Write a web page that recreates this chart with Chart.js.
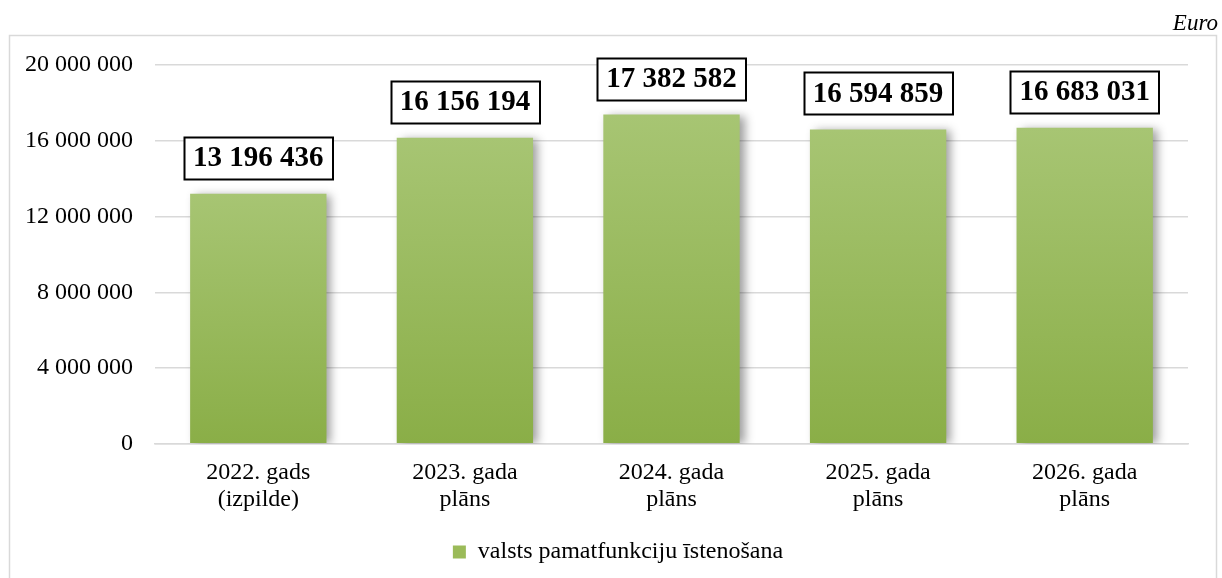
<!DOCTYPE html>
<html>
<head>
<meta charset="utf-8">
<script src="https://cdn.jsdelivr.net/npm/chart.js@4"></script>
<style>
html,body{margin:0;padding:0;background:#fff;}
canvas{display:block;}
</style>
</head>
<body>
<canvas id="c" width="1222" height="578"></canvas>
<script>
const categories = [["2022. gads","(izpilde)"],["2023. gada","plāns"],["2024. gada","plāns"],["2025. gada","plāns"],["2026. gada","plāns"]];
const seriesName = "valsts pamatfunkciju īstenošana";
const values = [13196436, 16156194, 17382582, 16594859, 16683031];
const yMin = 0, yMax = 20000000, yStep = 4000000;
const unitLabel = "Euro";

const SERIF = "'Liberation Serif', 'Times New Roman', serif";
function fmt(v){ return String(Math.round(v)).replace(/\B(?=(\d{3})+(?!\d))/g, " "); }

const framePlugin = {
  id: 'frame',
  afterLayout(chart){
    if (chart.legend) { chart.legend.left += 19; chart.legend.right += 19; }
  },
  beforeDraw(chart){
    const ctx = chart.ctx;
    ctx.save();
    ctx.fillStyle = '#fff';
    ctx.fillRect(0,0,chart.width,chart.height);
    ctx.strokeStyle = '#d9d9d9';
    ctx.lineWidth = 1.5;
    ctx.strokeRect(9.5, 35.5, 1207, 560);
    ctx.fillStyle = '#000';
    ctx.font = 'italic 23px ' + SERIF;
    ctx.textAlign = 'right';
    ctx.textBaseline = 'alphabetic';
    ctx.fillText(unitLabel, 1218, 30);
    ctx.restore();
  }
};

const shadowPlugin = {
  id: 'barShadow',
  beforeDatasetDraw(chart){
    const ctx = chart.ctx;
    ctx.save();
    ctx.shadowColor = 'rgba(0,0,0,0.38)';
    ctx.shadowBlur = 9;
    ctx.shadowOffsetX = 5;
    ctx.shadowOffsetY = 1;
  },
  afterDatasetDraw(chart){
    chart.ctx.restore();
  }
};

const labelPlugin = {
  id: 'boxLabels',
  afterDatasetsDraw(chart){
    const ctx = chart.ctx;
    const meta = chart.getDatasetMeta(0);
    ctx.save();
    ctx.font = 'bold 29px ' + SERIF;
    ctx.textAlign = 'center';
    ctx.textBaseline = 'middle';
    meta.data.forEach((el, i) => {
      const txt = fmt(chart.data.datasets[0].data[i]);
      const w = ctx.measureText(txt).width + 18;
      const h = 42;
      const bottom = el.y - 15;
      const x0 = Math.round(el.x - w/2) + 0.5;
      const y0 = Math.round(bottom - h) + 0.5;
      ctx.fillStyle = '#fff';
      ctx.fillRect(x0, y0, w, h);
      ctx.strokeStyle = '#000';
      ctx.lineWidth = 2;
      ctx.strokeRect(x0, y0, w, h);
      ctx.fillStyle = '#000';
      ctx.fillText(txt, el.x, bottom - h/2 + 1);
    });
    ctx.restore();
  }
};

function barGradient(context){
  const chart = context.chart;
  const ys = chart.scales && chart.scales.y;
  if (!chart.chartArea || !ys || context.parsed === undefined) return '#9bbb59';
  const v = context.parsed ? context.parsed.y : 0;
  const top = ys.getPixelForValue(v);
  const bottom = ys.getPixelForValue(0);
  if (!isFinite(top) || !isFinite(bottom) || top === bottom) return '#9bbb59';
  const g = chart.ctx.createLinearGradient(0, top, 0, bottom);
  g.addColorStop(0, '#a7c573');
  g.addColorStop(1, '#8aae47');
  return g;
}

new Chart(document.getElementById('c'), {
  type: 'bar',
  data: {
    labels: categories,
    datasets: [{
      label: seriesName,
      data: values,
      backgroundColor: barGradient,
      borderWidth: 0,
      categoryPercentage: 0.66,
      barPercentage: 1.0
    }]
  },
  options: {
    responsive: false,
    animation: false,
    devicePixelRatio: 1,
    layout: { padding: { left: 10, right: 34, top: 65, bottom: 4 } },
    plugins: {
      legend: {
        position: 'bottom',
        labels: {
          font: { family: SERIF, size: 24 },
          color: '#000',
          boxWidth: 13,
          boxHeight: 13,
          padding: 8,
          generateLabels(chart){
            return [{ text: seriesName, fillStyle: '#9bbb59', strokeStyle: '#9bbb59', lineWidth: 0, datasetIndex: 0, hidden: false }];
          }
        }
      },
      tooltip: { enabled: false }
    },
    scales: {
      x: {
        afterFit(scale){ scale.height += 4; },
        grid: { display: false, drawTicks: false },
        border: { display: true, color: '#d9d9d9', width: 1.5 },
        ticks: { font: { family: SERIF, size: 24, lineHeight: 1.13 }, color: '#000', padding: 15, maxRotation: 0 }
      },
      y: {
        min: yMin, max: yMax,
        afterFit(scale){ scale.width = 145; },
        grid: { color: '#d9d9d9', lineWidth: 1.5, drawTicks: false },
        border: { display: false },
        ticks: { stepSize: yStep, font: { family: SERIF, size: 24 }, color: '#000', padding: 22, callback: v => fmt(v) }
      }
    }
  },
  plugins: [framePlugin, shadowPlugin, labelPlugin]
});
</script>
</body>
</html>
